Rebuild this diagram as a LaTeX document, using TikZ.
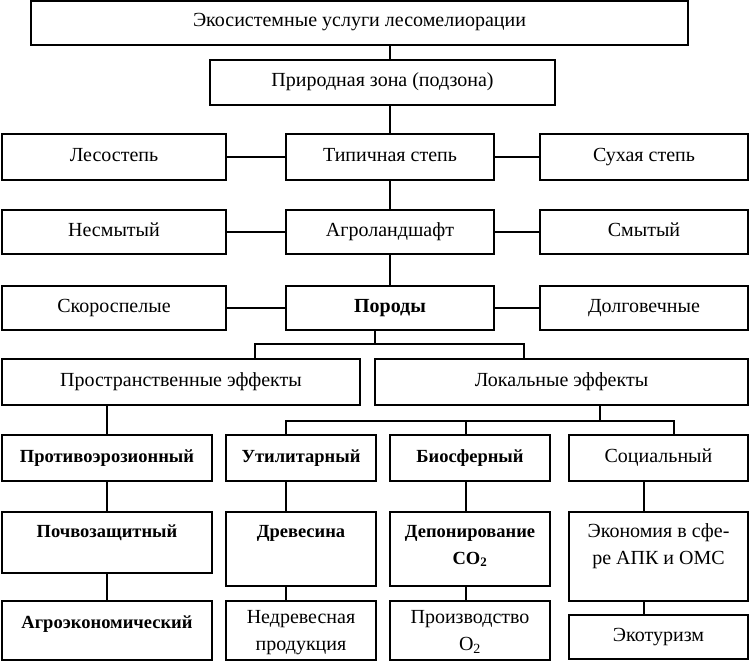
\documentclass[tikz,border=0pt]{standalone}
\usepackage{fontspec}
\setmainfont{Liberation Serif}
\newcommand\cbox[7][]{%
  \pgfmathsetmacro\bw{(#5)-(#3)}\pgfmathsetmacro\bh{(#6)-(#4)}%
  \pgfmathsetmacro\bcx{((#3)+(#5))/2}\pgfmathsetmacro\bcy{((#4)+(#6))/2}%
  \node[box,minimum width=\bw pt,minimum height=\bh pt,text height=13pt,text depth=5pt,#1] (#2) at (\bcx,\bcy) {#7};}
\newcommand\tbox[8][]{%
  \pgfmathsetmacro\bw{(#5)-(#3)}\pgfmathsetmacro\bh{(#6)-(#4)}%
  \pgfmathsetmacro\bcx{((#3)+(#5))/2}\pgfmathsetmacro\bd{\bh-(#7)}%
  \node[box,minimum width=\bw pt,text height=#7pt,text depth=\bd pt,anchor=north,#1] (#2) at (\bcx,#4) {#8};}
\begin{document}
\begin{tikzpicture}[x=1pt,y=-1pt,
  box/.style={draw,line width=2pt,inner sep=0pt,align=center,
    font=\fontsize{20}{27}\selectfont},
  bf/.style={font=\fontsize{20}{27}\selectfont\bfseries},
  bfs/.style={font=\fontsize{18.5}{27}\selectfont\bfseries},
  ln/.style={line width=2pt}]
\useasboundingbox (0,0) rectangle (750,661);
% upper part
\cbox{top}{31}{1}{688}{45}{Экосистемные услуги лесомелиорации}
\cbox{zona}{210}{60}{555}{105}{Природная зона (подзона)}
\cbox{les}{2}{134}{226}{180}{Лесостепь}
\cbox{tip}{286}{134}{494}{180}{Типичная степь}
\cbox{suh}{540}{134}{748}{180}{Сухая степь}
\cbox{nesm}{2}{210}{226}{254}{Несмытый}
\cbox{agro}{286}{210}{494}{254}{Агроландшафт}
\cbox{smyt}{540}{210}{748}{254}{Смытый}
\cbox{skor}{2}{286}{226}{330}{Скороспелые}
\cbox[bf]{por}{286}{286}{494}{330}{Породы}
\cbox{dolg}{540}{286}{748}{330}{Долговечные}
\cbox{prostr}{2}{359}{360}{405}{Пространственные эффекты}
\cbox{lok}{375}{359}{748}{405}{Локальные эффекты}
% lower part
\cbox[bfs]{prot}{2}{435}{212}{481}{Противоэрозионный}
\cbox[bfs]{util}{226}{435}{376}{481}{Утилитарный}
\cbox[bfs]{bios}{390}{435}{550}{481}{Биосферный}
\cbox{soc}{569}{435}{748}{481}{Социальный}
\tbox[bfs]{pochv}{2}{511}{212}{572}{25}{Почвозащитный}
\tbox[bfs]{drev}{226}{511}{376}{585}{25}{Древесина}
\tbox[bfs]{depo}{390}{511}{550}{585}{52}{Депонирование\\CO\textsubscript{2}}
\tbox{ekon}{569}{511}{748}{600}{52}{Экономия в сфе-\\ре АПК и ОМС}
\tbox[bfs]{agroek}{2}{600}{212}{659}{27}{Агроэкономический}
\tbox{nedrev}{226}{600}{376}{659}{49}{Недревесная\\продукция}
\tbox{proizv}{390}{600}{550}{659}{49}{Производство\\O\textsubscript{2}}
\cbox{ekotur}{569}{615}{748}{659}{Экотуризм}
% connector coordinates
\coordinate (b1) at (375,344);
\coordinate (b1l) at (255,344);
\coordinate (b1r) at (524,344);
\coordinate (b2) at (600,421);
\coordinate (b2l) at (286,421);
\coordinate (b2m) at (466,421);
\coordinate (b2r) at (674,421);
\coordinate (lx) at (107,0);
\coordinate (sx) at (644,0);
% connectors
\draw[ln] (top.south -| tip.north) -- (zona.north -| tip.north);
\draw[ln] (zona.south -| tip.north) -- (tip.north);
\draw[ln] (les.east) -- (tip.west);
\draw[ln] (tip.east) -- (suh.west);
\draw[ln] (tip.south) -- (agro.north);
\draw[ln] (nesm.east) -- (agro.west);
\draw[ln] (agro.east) -- (smyt.west);
\draw[ln] (agro.south) -- (por.north);
\draw[ln] (skor.east) -- (por.west);
\draw[ln] (por.east) -- (dolg.west);
\draw[ln] (por.south -| b1) -- (b1);
\draw[ln] (prostr.north -| b1l) -- (b1l) -- (b1r) -- (lok.north -| b1r);
\draw[ln] (prostr.south -| lx) -- (prot.north -| lx);
\draw[ln] (prot.south -| lx) -- (pochv.north -| lx);
\draw[ln] (pochv.south -| lx) -- (agroek.north -| lx);
\draw[ln] (lok.south -| b2) -- (b2);
\draw[ln] (util.north -| b2l) -- (b2l) -- (b2r) -- (soc.north -| b2r);
\draw[ln] (b2m) -- (bios.north -| b2m);
\draw[ln] (util.south -| b2l) -- (drev.north -| b2l);
\draw[ln] (drev.south -| b2l) -- (nedrev.north -| b2l);
\draw[ln] (bios.south -| b2m) -- (depo.north -| b2m);
\draw[ln] (depo.south -| b2m) -- (proizv.north -| b2m);
\draw[ln] (soc.south -| sx) -- (ekon.north -| sx);
\draw[ln] (ekon.south -| sx) -- (ekotur.north -| sx);
\end{tikzpicture}
\end{document}
